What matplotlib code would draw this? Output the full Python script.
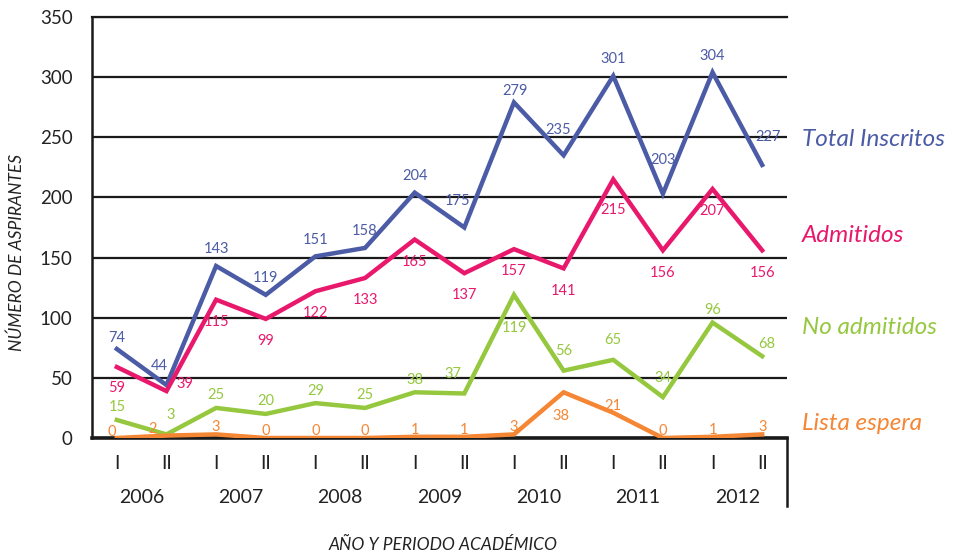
import numpy as np
import matplotlib.pyplot as plt
from matplotlib.transforms import blended_transform_factory

plt.rcParams['font.family'] = ['Lato', 'DejaVu Sans']

periods = ['I', 'II'] * 7
years = ['2006', '2007', '2008', '2009', '2010', '2011', '2012']

total = [74, 44, 143, 119, 151, 158, 204, 175, 279, 235, 301, 203, 304, 227]
admitidos = [59, 39, 115, 99, 122, 133, 165, 137, 157, 141, 215, 156, 207, 156]
no_admitidos = [15, 3, 25, 20, 29, 25, 38, 37, 119, 56, 65, 34, 96, 68]
lista = [0, 2, 3, 0, 0, 0, 1, 1, 3, 38, 21, 0, 1, 3]

names = ['Total Inscritos', 'Admitidos', 'No admitidos', 'Lista espera']
colors = ['#4B5BA6', '#E8196C', '#95C83F', '#F58634']

fig = plt.figure(figsize=(9.54, 5.57), dpi=100)
ax = fig.add_axes([92/954, 1-438/557, 695/954, 421/557])

x = np.arange(len(total))
series = [total, admitidos, no_admitidos, lista]

# label offsets in points, per series, with a few exceptions
base_dy = [12, -16, 9, 5]
special = {(0, 0): (0, 8), (0, 1): (-5, 14), (0, 7): (-5, 19), (0, 8): (1, 8),
           (0, 9): (-4, 18), (0, 11): (0, 24), (0, 13): (4, 20),
           (1, 0): (0, -15), (1, 1): (13, 5), (1, 10): (0, -22),
           (2, 1): (3, 14), (2, 7): (-8, 14), (2, 8): (0, -24),
           (2, 9): (0, 14), (2, 10): (0, 14), (2, 11): (0, 14), (2, 13): (3, 9),
           (3, 0): (-4, 4), (3, 1): (-10, 5), (3, 9): (-2, -17)}

for s, (vals, c) in enumerate(zip(series, colors)):
    ax.plot(x, vals, color=c, lw=3.2, zorder=3, solid_joinstyle='miter')
    for i, v in enumerate(vals):
        dx, dy = special.get((s, i), (0, base_dy[s]))
        ax.annotate(str(v), (i, v), xytext=(dx, dy), textcoords='offset points',
                    ha='center', va='center', color=c, fontsize=10.5, zorder=4)

ax.set_xlim(-0.5, 13.5)
ax.set_ylim(0, 350)
ax.set_yticks(range(0, 351, 50))
ax.yaxis.grid(True, color='#1a1a1a', lw=1.6)
ax.set_axisbelow(True)
ax.spines['right'].set_visible(False)
ax.spines['top'].set_linewidth(1.6)
ax.spines['left'].set_linewidth(1.8)
ax.spines['bottom'].set_linewidth(2.6)
for sp in ax.spines.values():
    sp.set_color('#1a1a1a')

ax.set_xticks(x)
ax.set_xticklabels(periods, fontsize=13.5, color='#222222')
ax.tick_params(axis='x', length=0, pad=12)
ax.tick_params(axis='y', length=0, pad=14, labelsize=13.5, labelcolor='#222222')

trans = blended_transform_factory(ax.transData, ax.transAxes)
for k, yr in enumerate(years):
    ax.text(2*k + 0.5, -0.141, yr, transform=trans, ha='center', va='center',
            fontsize=14, color='#222222')

ax.plot([1, 1], [0, -68/421], transform=ax.transAxes, color='#1a1a1a',
        lw=1.8, clip_on=False)

fig.text(443/954, 1-545/557, 'AÑO Y PERIODO ACADÉMICO', ha='center', va='center',
         fontsize=12.5, style='italic', color='#222222')
fig.text(17/954, 1-252/557, 'NÚMERO DE ASPIRANTES', ha='center', va='center',
         fontsize=12.5, style='italic', rotation=90, color='#222222')

label_y = [140, 236, 328, 423]
for name, c, ly in zip(names, colors, label_y):
    fig.text(802/954, 1-ly/557, name, ha='left', va='center', fontsize=17.5,
             style='italic', color=c)

fig.savefig('out.png', dpi=100)
